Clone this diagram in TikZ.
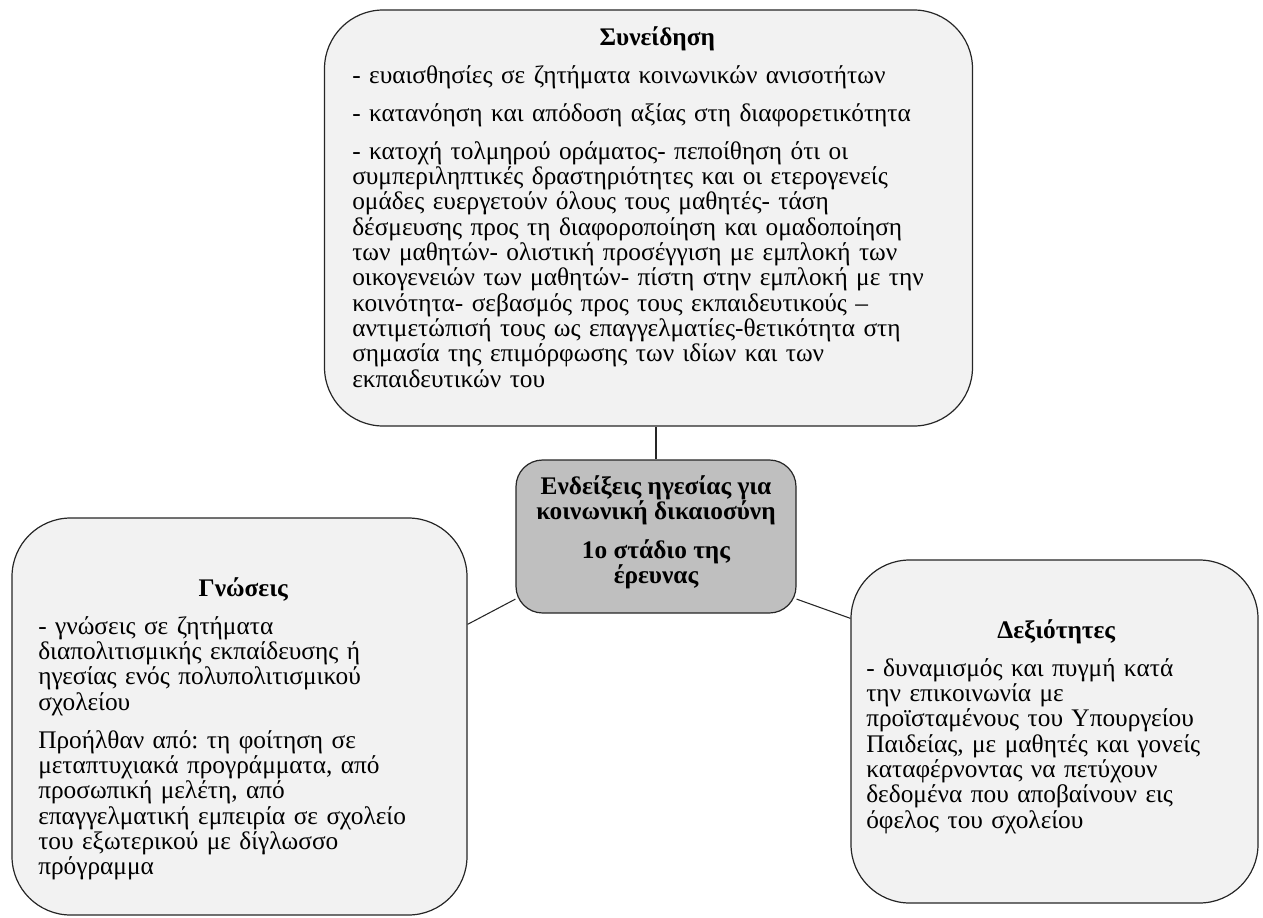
\documentclass[tikz,border=0pt]{standalone}
\usepackage{fontspec}
\setmainfont{Liberation Serif}
\frenchspacing
\begin{document}
\begin{tikzpicture}[x=0.75pt,y=-0.75pt,
  box/.style={draw=black!85, line width=0.9pt, fill=black!5, rounded corners=44pt, inner sep=0pt},
  hubbox/.style={draw=black!85, line width=0.9pt, fill=black!25, rounded corners=20pt, inner sep=0pt},
  txt/.style={inner sep=0pt, anchor=north west, font=\fontsize{19}{19}\selectfont},
  link/.style={draw=black!85, line width=0.8pt}]
\useasboundingbox (0,0) rectangle (1263,917);

% the four boxes
\node[box, minimum width=648*0.75pt, minimum height=416*0.75pt] (top) at (648.5,218) {};
\node[hubbox, minimum width=280*0.75pt, minimum height=153*0.75pt] (hub) at (656,536.5) {};
\node[box, minimum width=455*0.75pt, minimum height=397*0.75pt] (left) at (239.5,716.5) {};
\node[box, minimum width=407*0.75pt, minimum height=343*0.75pt] (right) at (1054.5,731.5) {};

% connectors
\draw[link] (hub.north) -- (hub.north |- top.south);
\draw[link] (left.22.8) -- (hub.204.2);
\draw[link] (hub.336.5) -- (right.151.3);

% texts
\node[txt, text width=610*0.75pt] (toptxt) at (352,26) {%
  \setlength{\parskip}{9.5pt}\raggedright
  {\centering\bfseries Συνείδηση\par}
  - ευαισθησίες σε ζητήματα κοινωνικών ανισοτήτων\par
  - κατανόηση και απόδοση αξίας στη διαφορετικότητα\par
  - κατοχή τολμηρού οράματος- πεποίθηση ότι οι\\
  συμπεριληπτικές δραστηριότητες και οι ετερογενείς\\
  ομάδες ευεργετούν όλους τους μαθητές- τάση\\
  δέσμευσης προς τη διαφοροποίηση και ομαδοποίηση\\
  των μαθητών- ολιστική προσέγγιση με εμπλοκή των\\
  οικογενειών των μαθητών- πίστη στην εμπλοκή με την\\
  κοινότητα- σεβασμός προς τους εκπαιδευτικούς –\\
  αντιμετώπισή τους ως επαγγελματίες-θετικότητα στη\\
  σημασία της επιμόρφωσης των ιδίων και των\\
  εκπαιδευτικών του\par};

\node[txt, text width=410*0.75pt] (lefttxt) at (38,577) {%
  \setlength{\parskip}{9.5pt}\raggedright
  \hspace*{0pt}\hfill\makebox[0pt]{\bfseries Γνώσεις}\hfill\hspace*{0pt}\par
  - γνώσεις σε ζητήματα\\
  διαπολιτισμικής εκπαίδευσης ή\\
  ηγεσίας ενός πολυπολιτισμικού\\
  σχολείου\par
  Προήλθαν από: τη φοίτηση σε\\
  μεταπτυχιακά προγράμματα, από\\
  προσωπική μελέτη, από\\
  επαγγελματική εμπειρία σε σχολείο\\
  του εξωτερικού με δίγλωσσο\\
  πρόγραμμα\par};

\node[txt, text width=380*0.75pt] (righttxt) at (866,619) {%
  \setlength{\parskip}{9.5pt}\raggedright
  \hspace*{0pt}\hfill\makebox[0pt]{\bfseries Δεξιότητες}\hfill\hspace*{0pt}\par
  - δυναμισμός και πυγμή κατά\\
  την επικοινωνία με\\
  προϊσταμένους του Υπουργείου\\
  Παιδείας, με μαθητές και γονείς\\
  καταφέρνοντας να πετύχουν\\
  δεδομένα που αποβαίνουν εις\\
  όφελος του σχολείου\par};

\node[inner sep=0pt, align=center, yshift=3pt, font=\fontsize{19}{19}\selectfont\bfseries] (hubtxt) at (hub.center) {%
  Ενδείξεις ηγεσίας για\\ κοινωνική δικαιοσύνη\\[10pt] 1ο στάδιο της\\ έρευνας};
\end{tikzpicture}
\end{document}
